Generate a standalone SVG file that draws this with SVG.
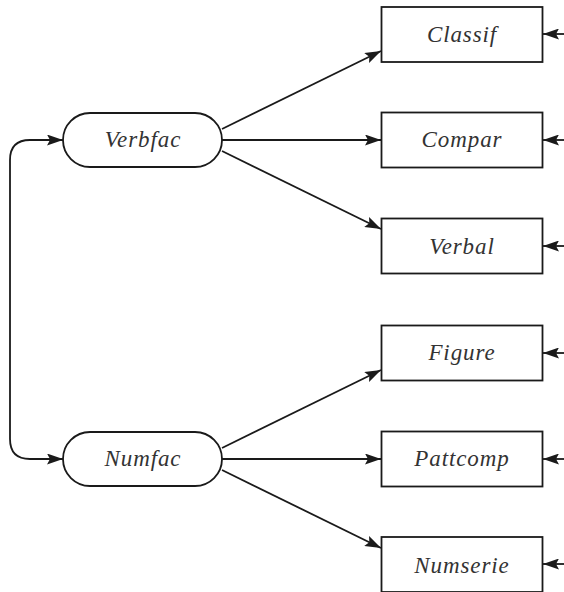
<svg xmlns="http://www.w3.org/2000/svg" width="564" height="592" viewBox="0 0 564 592">
<style>
.n{fill:#fff;stroke:#1a1a1a;stroke-width:1.8}
.t{font-family:'Liberation Serif','Times New Roman',serif;font-style:italic;font-size:23px;letter-spacing:0.9px;fill:#333;text-anchor:middle}
.c{fill:none;stroke:#1a1a1a;stroke-width:1.8;marker-end:url(#a)}
</style>
<defs>
<marker id="a" viewBox="0 0 16 11" refX="16" refY="5.5" markerWidth="16" markerHeight="11" markerUnits="userSpaceOnUse" orient="auto">
<path d="M0,0 L16,5.5 L0,11 L3,5.5 Z" fill="#1a1a1a"/>
</marker>
</defs>
<g id="connectors">
<path class="c" d="M222,129 L381,51"/>
<path class="c" d="M222,140 L381,140"/>
<path class="c" d="M222,151 L381,229"/>
<path class="c" d="M222,448 L381,370"/>
<path class="c" d="M222,459 L381,459"/>
<path class="c" d="M222,470 L381,548"/>
<path class="c" d="M10,290 L10,160 Q10,140 30,140 L63,140"/>
<path class="c" d="M10,290 L10,439 Q10,459 30,459 L63,459"/>
<path class="c" d="M564,34 L543,34"/>
<path class="c" d="M564,140 L543,140"/>
<path class="c" d="M564,246 L543,246"/>
<path class="c" d="M564,353 L543,353"/>
<path class="c" d="M564,459 L543,459"/>
<path class="c" d="M564,564 L543,564"/>
</g>
<g id="verbfac"><rect class="n" x="63" y="113" width="159" height="54" rx="27"/><text class="t" x="143" y="147">Verbfac</text></g>
<g id="numfac"><rect class="n" x="63" y="432" width="159" height="54" rx="27"/><text class="t" x="143" y="466">Numfac</text></g>
<g id="classif"><rect class="n" x="381.5" y="7" width="161" height="55"/><text class="t" x="462" y="42">Classif</text></g>
<g id="compar"><rect class="n" x="381.5" y="112.5" width="161" height="55"/><text class="t" x="462" y="147">Compar</text></g>
<g id="verbal"><rect class="n" x="381.5" y="218.5" width="161" height="55"/><text class="t" x="462" y="254">Verbal</text></g>
<g id="figure"><rect class="n" x="381.5" y="325.5" width="161" height="55"/><text class="t" x="462" y="360">Figure</text></g>
<g id="pattcomp"><rect class="n" x="381.5" y="431.5" width="161" height="55"/><text class="t" x="462" y="466">Pattcomp</text></g>
<g id="numserie"><rect class="n" x="381.5" y="537" width="161" height="55"/><text class="t" x="462" y="573">Numserie</text></g>
</svg>
